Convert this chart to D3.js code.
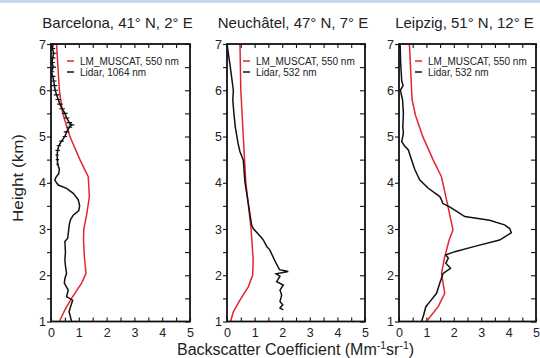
<!DOCTYPE html>
<html><head><meta charset="utf-8">
<script src="https://cdn.jsdelivr.net/npm/d3@7"></script>
<style>
body{margin:0;background:#fff}
svg{display:block}
text{font-family:"Liberation Sans",Arial,Helvetica,sans-serif;fill:#222}
</style>
</head><body>
<svg id="c" width="540" height="358"></svg>
<script>
// ---- data ----
const titles = ["Barcelona, 41° N, 2° E", "Neuchâtel, 47° N, 7° E", "Leipzig, 51° N, 12° E"];
const modelLabel = "LM_MUSCAT, 550 nm";
const lidarLabels = ["Lidar, 1064 nm", "Lidar, 532 nm", "Lidar, 532 nm"];
const xTickValues = [0, 1, 2, 3, 4, 5];
const yTickValues = [1, 2, 3, 4, 5, 6, 7];
const yAxisTitle = "Height (km)";

// [backscatter, height km]
const barcelonaModel = [[0.2,7],[0.25,6.5],[0.3,6.0],[0.42,5.5],[0.68,5.0],[1.04,4.5],[1.2,4.3],[1.34,4.13],[1.38,3.7],[1.28,3.3],[1.18,3.0],[1.17,2.76],[1.2,2.4],[1.26,2.04],[1.1,1.83],[0.74,1.5],[0.5,1.25],[0.3,1.0]];
const barcelonaLidar = [[0.08,7.0],[0.05,6.9],[0.1,6.8],[0.06,6.7],[0.04,6.6],[0.08,6.5],[0.02,6.4],[0.06,6.3],[0.1,6.2],[0.12,6.1],[0.15,6.0],[0.2,5.9],[0.26,5.8],[0.32,5.7],[0.4,5.6],[0.5,5.5],[0.56,5.4],[0.66,5.3],[0.74,5.25],[0.66,5.2],[0.56,5.1],[0.5,5.0],[0.38,4.9],[0.28,4.8],[0.24,4.7],[0.22,4.6],[0.23,4.5],[0.24,4.4],[0.3,4.3],[0.28,4.2],[0.16,4.1],[0.14,4.05],[0.26,3.95],[0.56,3.88],[0.8,3.77],[0.98,3.63],[1.03,3.5],[1.0,3.4],[0.8,3.3],[0.7,3.2],[0.66,3.1],[0.62,2.9],[0.6,2.8],[0.5,2.73],[0.52,2.5],[0.5,2.33],[0.52,2.2],[0.56,2.04],[0.5,1.93],[0.48,1.83],[0.62,1.68],[0.56,1.54],[0.78,1.46],[0.72,1.35],[0.65,1.21],[0.7,1.1],[0.74,1.0]];
const barcelonaLidarErr = [0.1,0.1,0.1,0.1,0.1,0.1,0.1,0.1,0.1,0.1,0.1,0.1,0.1,0.1,0.1,0.1,0.1,0.1,0.1,0.1,0.1,0.08,0.08,0.08,0.08,0.06,0.06,0.05,0,0,0,0,0,0,0,0,0,0,0,0,0,0,0,0,0,0,0,0,0,0,0,0,0,0,0,0,0];

const neuchatelModel = [[0.47,7],[0.5,6],[0.52,5.79],[0.59,5],[0.68,4.02],[0.87,3.01],[0.9,2.76],[0.95,2.33],[0.93,2.0],[0.77,1.75],[0.47,1.46],[0.23,1.21],[0.13,1.0]];
const neuchatelLidar = [[0.0,7],[0.12,6.5],[0.23,6],[0.21,5.79],[0.25,5.5],[0.3,5.21],[0.4,4.85],[0.47,4.67],[0.59,4.49],[0.65,4.02],[0.77,3.56],[0.89,3.09],[0.95,3.01],[1.22,2.83],[1.32,2.76],[1.44,2.62],[1.55,2.55],[1.72,2.33],[1.9,2.12],[2.22,2.08],[1.78,2.03],[1.92,1.98],[1.8,1.86],[2.04,1.79],[1.92,1.68],[1.98,1.57],[1.92,1.43],[2.02,1.36],[1.92,1.29],[2.04,1.25]];

const leipzigModel = [[0.38,7],[0.42,6.5],[0.46,6.0],[0.48,5.79],[0.6,5.46],[0.88,4.98],[1.25,4.49],[1.55,4.13],[1.79,3.48],[1.97,2.98],[1.83,2.76],[1.67,2.4],[1.55,2.04],[1.67,1.61],[1.43,1.32],[1.0,1.0]];
const leipzigLidar = [[0.04,7],[0.06,6.6],[0.1,6.2],[0.15,6.1],[0.05,6.0],[0.13,5.79],[0.16,5.5],[0.14,5.2],[0.16,5.07],[0.1,4.89],[0.2,4.8],[0.34,4.71],[0.46,4.49],[0.58,4.28],[0.76,4.06],[1.07,3.88],[1.49,3.7],[1.55,3.63],[1.6,3.55],[1.85,3.48],[2.22,3.34],[2.4,3.27],[3.31,3.19],[3.85,3.09],[4.04,3.01],[4.1,2.92],[3.67,2.76],[2.8,2.63],[2.04,2.51],[1.71,2.44],[1.8,2.37],[1.71,2.26],[1.88,2.15],[1.61,2.04],[1.49,1.83],[1.37,1.61],[1.13,1.43],[0.98,1.32],[0.88,1.1],[0.82,1.0]];

// ---- layout ----
const svg = d3.select("#c");
const RED = "#e3262b", BLACK = "#111";
svg.append("rect").attr("x",0).attr("y",0).attr("width",540).attr("height",3).attr("fill","#c7d7ee");

const yTop = 44, yBot = 321.5;
const panels = [
  {title: titles[0], model: barcelonaModel, lidar: barcelonaLidar, err: barcelonaLidarErr, lab: lidarLabels[0], x0: 51, x1: 190},
  {title: titles[1], model: neuchatelModel, lidar: neuchatelLidar, err: null, lab: lidarLabels[1], x0: 227, x1: 365},
  {title: titles[2], model: leipzigModel, lidar: leipzigLidar, err: null, lab: lidarLabels[2], x0: 399, x1: 536}
];
const y = d3.scaleLinear().domain([1, 7]).range([yBot, yTop]);
const halfX = d3.range(0, 5.01, 0.5);
const halfY = d3.range(1, 7.01, 0.5);

panels.forEach((p, i) => {
  const x = d3.scaleLinear().domain([0, 5]).range([p.x0, p.x1]);
  const g = svg.append("g");
  const clipId = "clip" + i;
  svg.append("clipPath").attr("id", clipId).append("rect")
    .attr("x", p.x0).attr("y", yTop).attr("width", p.x1 - p.x0).attr("height", yBot - yTop);

  const fmt = d => (xTickValues.includes(d) || yTickValues.includes(d)) && Number.isInteger(d) ? d : "";
  const styleAx = sel => {
    sel.select(".domain").remove();
    sel.selectAll(".tick line").attr("stroke", BLACK).attr("stroke-width", 1.1);
    sel.selectAll(".tick text").style("font-size", "12.5px").attr("fill", "#222")
      .style("font-family", '"Liberation Sans",Arial,sans-serif');
  };
  g.append("g").attr("transform", `translate(0,${yBot})`)
    .call(d3.axisBottom(x).tickValues(halfX).tickSizeInner(-4).tickSizeOuter(0).tickPadding(7).tickFormat(fmt))
    .call(styleAx);
  g.append("g").attr("transform", `translate(0,${yTop})`)
    .call(d3.axisTop(x).tickValues(halfX).tickSizeInner(-4).tickSizeOuter(0).tickFormat(""))
    .call(styleAx);
  g.append("g").attr("transform", `translate(${p.x0},0)`)
    .call(d3.axisLeft(y).tickValues(halfY).tickSizeInner(4).tickSizeOuter(0).tickPadding(1).tickFormat(fmt))
    .call(styleAx);
  g.append("g").attr("transform", `translate(${p.x1},0)`)
    .call(d3.axisRight(y).tickValues(halfY).tickSizeInner(-5).tickSizeOuter(0).tickFormat(""))
    .call(styleAx);

  const line = d3.line().x(d => x(d[0])).y(d => y(d[1]));
  const plot = g.append("g").attr("clip-path", `url(#${clipId})`);
  plot.append("path").datum(p.model).attr("d", line)
    .attr("fill", "none").attr("stroke", RED).attr("stroke-width", 1.5);
  plot.append("path").datum(p.lidar).attr("d", line)
    .attr("fill", "none").attr("stroke", BLACK).attr("stroke-width", 1.5);
  if (p.err) {
    plot.selectAll("line.err").data(p.lidar.map((d, k) => [d, p.err[k]]).filter(e => e[1] > 0))
      .enter().append("line")
      .attr("x1", e => x(e[0][0] - e[1])).attr("x2", e => x(e[0][0] + e[1]))
      .attr("y1", e => y(e[0][1])).attr("y2", e => y(e[0][1]))
      .attr("stroke", BLACK).attr("stroke-width", 1.2);
  }

  g.append("rect").attr("x", p.x0).attr("y", yTop).attr("width", p.x1 - p.x0).attr("height", yBot - yTop)
    .attr("fill", "none").attr("stroke", BLACK).attr("stroke-width", 1.8);

  g.append("text").attr("x", (p.x0 + p.x1) / 2 - 3).attr("y", 28).attr("text-anchor", "middle")
    .style("font-size", "15px").text(p.title);

  const lx = p.x0 + 16;
  g.append("line").attr("x1", lx).attr("x2", lx + 7).attr("y1", 61).attr("y2", 61).attr("stroke", RED).attr("stroke-width", 1.5);
  g.append("line").attr("x1", lx).attr("x2", lx + 7).attr("y1", 72).attr("y2", 72).attr("stroke", BLACK).attr("stroke-width", 1.5);
  g.append("text").attr("x", lx + 13).attr("y", 65).style("font-size", "10px").text(modelLabel);
  g.append("text").attr("x", lx + 13).attr("y", 76).style("font-size", "10px").text(p.lab);
});

svg.append("text").attr("transform", "translate(23,178) rotate(-90)").attr("text-anchor", "middle")
  .style("font-size", "15px").attr("textLength", 88).attr("lengthAdjust", "spacingAndGlyphs").text(yAxisTitle);

const xt = svg.append("text").attr("x", 177).attr("y", 355).style("font-size", "16px");
xt.append("tspan").text("Backscatter Coefficient (Mm");
xt.append("tspan").attr("dy", -6).style("font-size", "10.5px").text("-1");
xt.append("tspan").attr("dy", 6).text("sr");
xt.append("tspan").attr("dy", -6).style("font-size", "10.5px").text("-1");
xt.append("tspan").attr("dy", 6).text(")");
</script>
</body></html>
